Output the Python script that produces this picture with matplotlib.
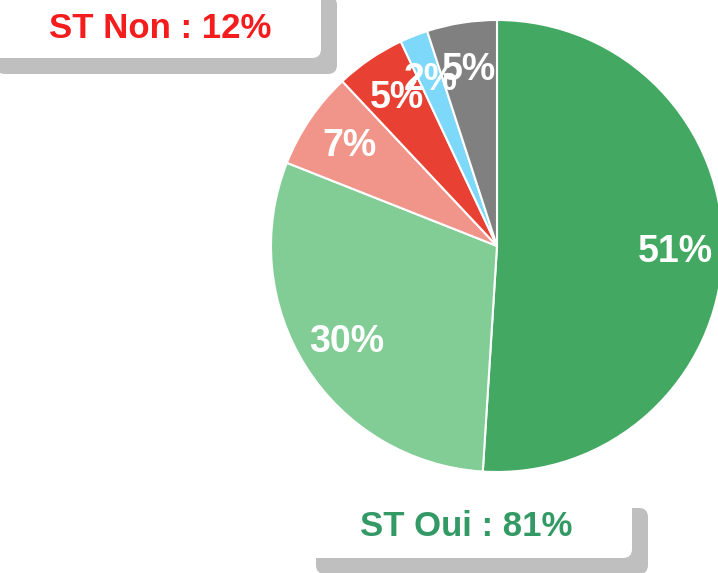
import matplotlib
matplotlib.use("Agg")
import matplotlib.pyplot as plt
from matplotlib.patches import FancyBboxPatch

# Slice data (clockwise from 12 o'clock)
values = [51, 30, 7, 5, 2, 5]
colors = ["#43A862", "#82CC96", "#F1958A", "#E84133", "#7DD8FA", "#808080"]

# Summary boxes
box_labels = ["ST Non : 12%", "ST Oui : 81%"]
box_colors = ["#F41C1C", "#339965"]

W, H = 718, 573
fig = plt.figure(figsize=(W / 100, H / 100), dpi=100)
ax = fig.add_axes([0, 0, 1, 1])

font = ["Liberation Sans", "DejaVu Sans"]

wedges, texts, autotexts = ax.pie(
    values, colors=colors, startangle=90, counterclock=False,
    center=(497, H - 246), radius=226, frame=True,
    autopct=lambda p: f"{p:.0f}%", pctdistance=0.79,
    wedgeprops=dict(edgecolor="white", linewidth=1.5),
    textprops=dict(color="white", fontsize=27, fontweight="bold", family=font),
)
ax.set_xlim(0, W)
ax.set_ylim(0, H)
ax.set_aspect("equal")
ax.axis("off")


def label_box(x0, y0, x1, y1, tx, ty, text, color):
    # gray drop shadow, then white box (pixel coords, y from top)
    sh = FancyBboxPatch((x0 + 16, H - y1 - 16), x1 - x0, y1 - y0,
                        boxstyle="round,pad=0,rounding_size=9",
                        fc="#BFBFBF", ec="none", zorder=3)
    bx = FancyBboxPatch((x0, H - y1), x1 - x0, y1 - y0,
                        boxstyle="round,pad=0,rounding_size=9",
                        fc="white", ec="none", zorder=4)
    ax.add_patch(sh)
    ax.add_patch(bx)
    ax.text(tx, H - ty, text, color=color,
            fontsize=25, fontweight="bold", family=font,
            ha="center", va="center", zorder=5)


label_box(-20, -20, 321, 58, 160, 28, box_labels[0], box_colors[0])
label_box(300, 492, 632, 558, 466, 527, box_labels[1], box_colors[1])

fig.savefig("out.png", dpi=100)
